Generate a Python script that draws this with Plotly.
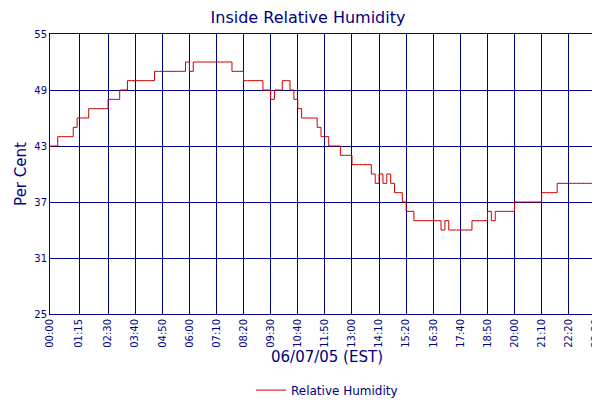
import plotly.graph_objects as go
import pandas as pd

# humidity readings every 10 minutes on 06/07/05
humidity = [
    43, 43, 44, 44, 44, 44,
    45, 46, 46, 46, 47, 47,
    47, 47, 47, 48, 48, 48,
    49, 49, 50, 50, 50, 50,
    50, 50, 50, 51, 51, 51,
    51, 51, 51, 51, 51, 52,
    51, 52, 52, 52, 52, 52,
    52, 52, 52, 52, 52, 51,
    51, 51, 50, 50, 50, 50,
    50, 49, 49, 48, 49, 49,
    50, 50, 49, 48, 47, 46,
    46, 46, 46, 45, 44, 44,
    43, 43, 43, 42, 42, 42,
    41, 41, 41, 41, 41, 40,
    39, 40, 39, 40, 39, 38,
    38, 37, 36, 36, 35, 35,
    35, 35, 35, 35, 35, 34,
    35, 34, 34, 34, 34, 34,
    34, 35, 35, 35, 35, 36,
    35, 36, 36, 36, 36, 36,
    37, 37, 37, 37, 37, 37,
    37, 38, 38, 38, 38, 39,
    39, 39, 39, 39, 39, 39,
    39, 39, 39, 40, 40, 40,
]
times = pd.date_range("2005-06-07 00:00", periods=len(humidity), freq="10min")

tick_labels = ["00:00", "01:15", "02:30", "03:40", "04:50", "06:00", "07:10", "08:20",
               "09:30", "10:40", "11:50", "13:00", "14:10", "15:20", "16:30", "17:40",
               "18:50", "20:00", "21:10", "22:20", "23:30", "23:50"]
tick_vals = ["2005-06-07 " + t for t in tick_labels]
y_ticks = [25, 31, 37, 43, 49, 55]

navy = "#000080"

fig = go.Figure()
fig.add_trace(go.Scatter(
    x=times, y=humidity, mode="lines", line=dict(color="#cc0000", width=1, shape="hv"),
    name="Relative Humidity"
))

fig.update_layout(
    width=600, height=400,
    paper_bgcolor="white", plot_bgcolor="white",
    margin=dict(l=42, r=4, t=26, b=82),
    font=dict(family="DejaVu Sans", color=navy, size=10),
    title=dict(text="Inside Relative Humidity", x=0.5, xanchor="center", y=0.99, yanchor="top",
               font=dict(size=16, color=navy)),
    showlegend=True,
    legend=dict(orientation="h", x=0.5, xanchor="center", y=-0.22, yanchor="top",
                font=dict(size=12, color=navy)),
    xaxis=dict(
        range=["2005-06-07 00:00", "2005-06-07 23:51"], automargin=False,
        tickvals=tick_vals, ticktext=tick_labels, tickangle=-90,
        showgrid=True, gridcolor=navy, gridwidth=1,
        showline=True, linecolor=navy, mirror=True, ticks="",
        title=dict(text="06/07/05 (EST)", font=dict(size=15, color=navy), standoff=4),
    ),
    yaxis=dict(
        range=[25, 55], tickvals=y_ticks, automargin=False,
        showgrid=True, gridcolor=navy, gridwidth=1, zeroline=False,
        showline=True, linecolor=navy, mirror=True, ticks="",
        title=dict(text="Per Cent", font=dict(size=15, color=navy), standoff=4),
    ),
)

fig.write_html("out.html")
